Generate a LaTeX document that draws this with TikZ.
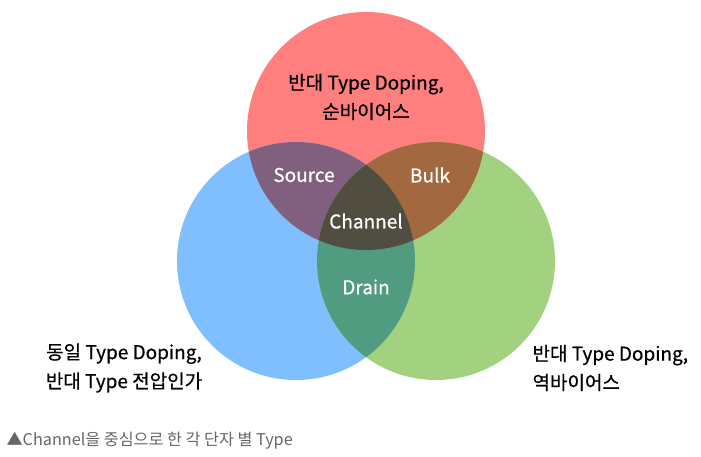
\documentclass[tikz,border=0pt]{standalone}
\usepackage{fontspec}
\setmainfont{Noto Sans CJK KR}
\newfontfamily\krfont{Noto Sans CJK KR}
\newfontfamily\krmedium[FakeBold=0.6]{Noto Sans CJK KR}
\definecolor{cred}{HTML}{FF7F7F}
\definecolor{cblue}{HTML}{80BFFF}
\definecolor{cgreen}{HTML}{A2D180}
\definecolor{crb}{HTML}{805F7F}
\definecolor{crg}{HTML}{A2683F}
\definecolor{cbg}{HTML}{519C80}
\definecolor{crgb}{HTML}{514D40}
\definecolor{captgray}{HTML}{666666}
\begin{document}
\begin{tikzpicture}[x=1pt,y=-1pt,
  outer/.style={font=\krmedium\fontsize{19}{29}\selectfont, text=black, align=center},
  inner/.style={font=\krmedium\fontsize{19}{22}\selectfont, text=white},
  caption/.style={font=\krfont\fontsize{16.2}{18}\selectfont, text=captgray, anchor=west}]
\useasboundingbox (0,0) rectangle (701,456);
% circle centres and radius
\def\R{119}
\coordinate (cr) at (366,131);
\coordinate (cb) at (296,261);
\coordinate (cg) at (436,261);
% single circles
\fill[cred] (cr) circle[radius=\R];
\fill[cblue] (cb) circle[radius=\R];
\fill[cgreen] (cg) circle[radius=\R];
% pairwise overlaps
\begin{scope}
  \clip (cr) circle[radius=\R];
  \fill[crb] (cb) circle[radius=\R];
\end{scope}
\begin{scope}
  \clip (cr) circle[radius=\R];
  \fill[crg] (cg) circle[radius=\R];
\end{scope}
\begin{scope}
  \clip (cb) circle[radius=\R];
  \fill[cbg] (cg) circle[radius=\R];
\end{scope}
% triple overlap
\begin{scope}
  \clip (cr) circle[radius=\R];
  \clip (cb) circle[radius=\R];
  \fill[crgb] (cg) circle[radius=\R];
\end{scope}
% region labels
\node[inner] (source) at (304,175) {Source};
\node[inner] (bulk) at (430,175) {Bulk};
\node[inner] (channel) at (366,221) {Channel};
\node[inner] (drain) at (366,287) {Drain};
% outer labels
\node[outer] (top) at (366,97) {반대 Type Doping,\\순바이어스};
\node[outer] (left) at (124,368) {동일 Type Doping,\\반대 Type 전압인가};
\node[outer, align=left, anchor=west] (right) at (529,368) {반대 Type Doping,\\역바이어스};
% caption
\node[caption] (cap) at (3,441) {▲Channel을 중심으로 한 각 단자 별 Type};
\end{tikzpicture}
\end{document}
